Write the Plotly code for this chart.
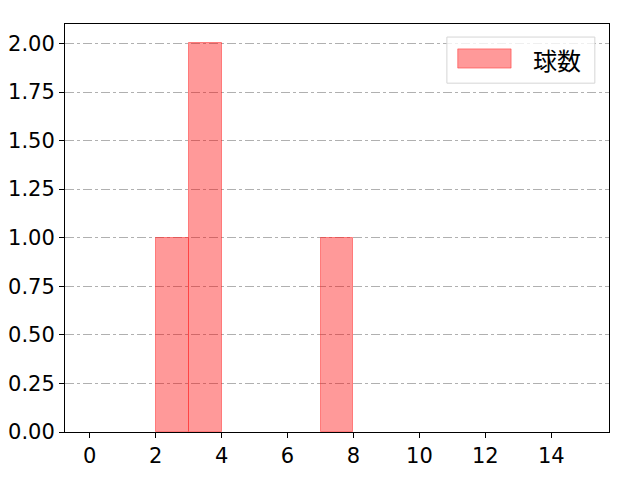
import plotly.graph_objects as go

bin_starts = list(range(0, 15))
counts = [0, 0, 1, 2, 0, 0, 0, 1, 0, 0, 0, 0, 0, 0, 0]
series_name = "球数"
x_ticks = [0, 2, 4, 6, 8, 10, 12, 14]
y_ticks = [0, 0.25, 0.5, 0.75, 1.0, 1.25, 1.5, 1.75, 2.0]

xs = [b + 0.5 for b, c in zip(bin_starts, counts) if c > 0]
ys = [c for c in counts if c > 0]

bar_fill = "rgba(255,0,0,0.4)"
bar_edge = "rgba(255,40,40,0.5)"

fig = go.Figure()
fig.add_trace(go.Bar(
    x=xs, y=ys, width=1.0, name=series_name,
    marker=dict(color=bar_fill, line=dict(color=bar_edge, width=1)),
    showlegend=False,
))

tick_font = "DejaVu Sans"
cjk_font = "Noto Sans CJK JP"
fig.update_layout(
    width=640, height=480,
    margin=dict(l=57, r=39, t=16, b=56),
    plot_bgcolor="white", paper_bgcolor="white",
    font=dict(family=tick_font, size=21, color="black"),
    bargap=0,
    showlegend=False,
)
# legend box (drawn manually to mimic the wide patch)
fig.add_shape(type="rect", xref="paper", yref="paper",
              x0=0.702, x1=0.974, y0=0.855, y1=0.968,
              line=dict(color="#d5d5d5", width=1), fillcolor="rgba(255,255,255,0.8)")
fig.add_shape(type="rect", xref="paper", yref="paper",
              x0=0.722, x1=0.820, y0=0.892, y1=0.939,
              line=dict(color=bar_edge, width=1), fillcolor=bar_fill)
fig.add_annotation(text=series_name, xref="paper", yref="paper",
                   x=0.856, y=0.914, xanchor="left", yanchor="middle",
                   showarrow=False, font=dict(size=24, family=cjk_font, color="black"))

fig.update_xaxes(
    range=[-0.75, 15.75], tickvals=x_ticks, ticktext=[str(v) for v in x_ticks],
    showgrid=False, zeroline=False, automargin=False,
    showline=True, mirror=True, linecolor="black", linewidth=1,
    ticks="outside", ticklen=5, tickcolor="black",
    tickfont=dict(size=21, family=tick_font),
)
fig.update_yaxes(
    range=[0, 2.1], tickvals=y_ticks, ticktext=[f"{v:.2f}" for v in y_ticks],
    showgrid=True, gridcolor="#b0b0b0", griddash="dashdot", gridwidth=1,
    zeroline=False, layer="above traces", automargin=False,
    showline=True, mirror=True, linecolor="black", linewidth=1,
    ticks="outside", ticklen=5, tickcolor="black",
    tickfont=dict(size=21, family=tick_font),
)

fig.write_html("out.html")
